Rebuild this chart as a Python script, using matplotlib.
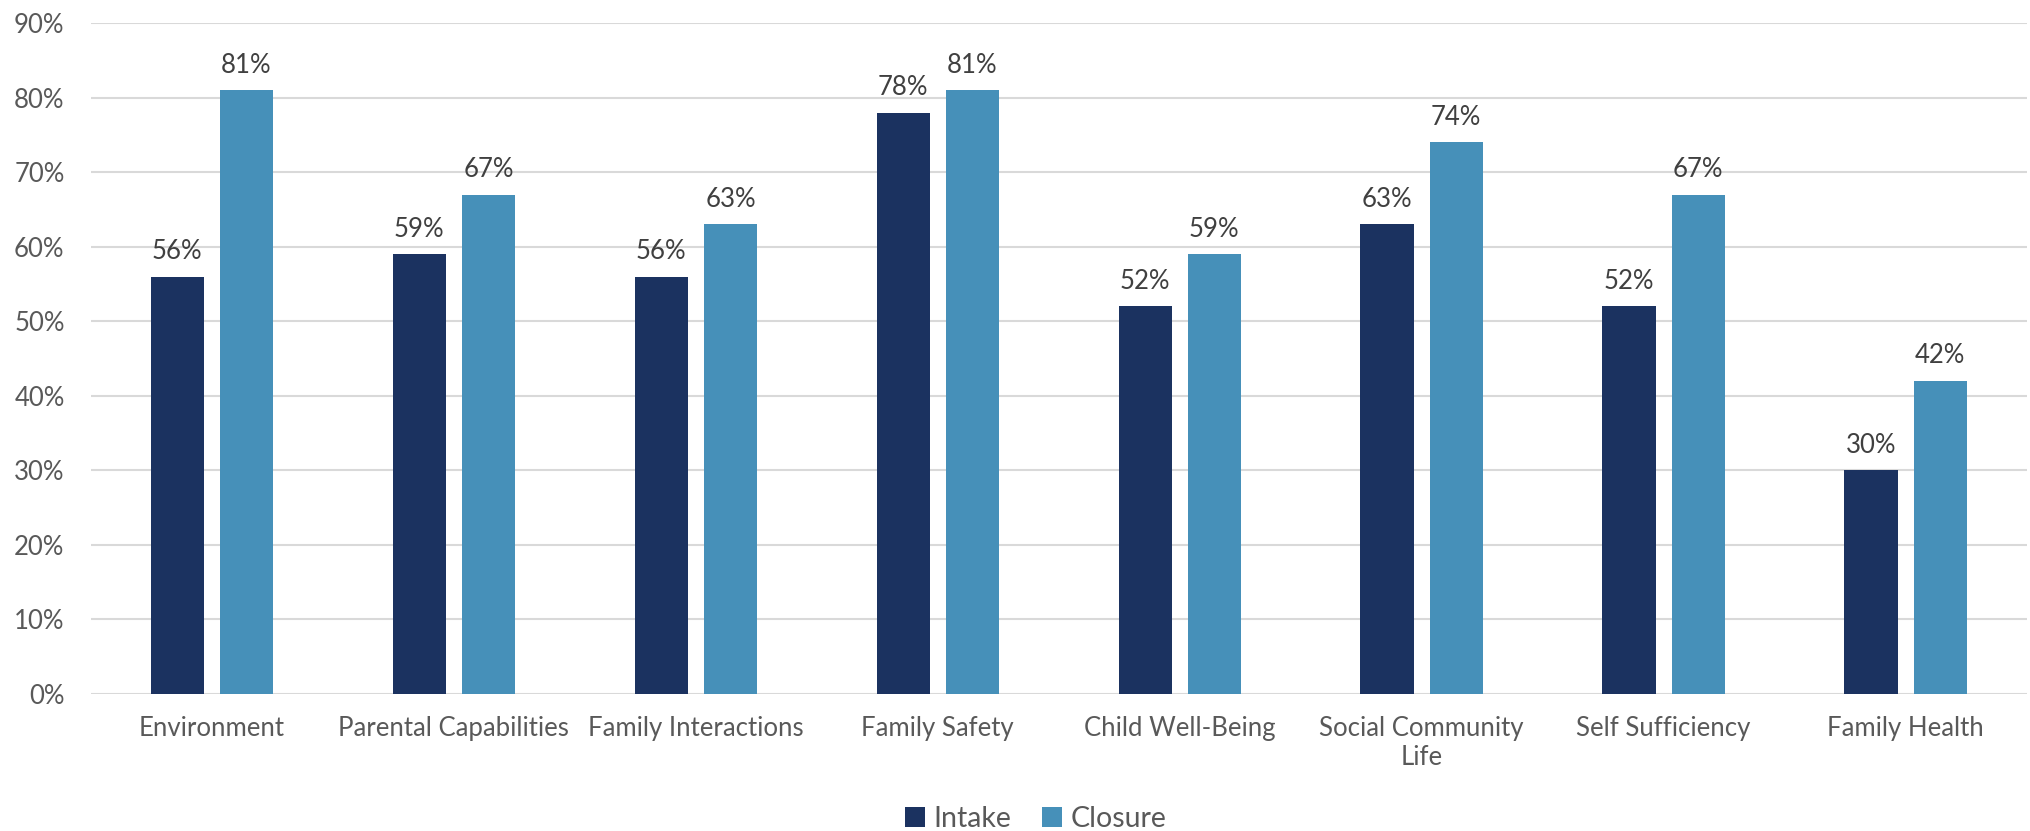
import matplotlib
matplotlib.use("Agg")
import matplotlib.pyplot as plt
import numpy as np

categories = ["Environment", "Parental Capabilities", "Family Interactions", "Family Safety",
              "Child Well-Being", "Social Community\nLife", "Self Sufficiency", "Family Health"]
intake = [56, 59, 56, 78, 52, 63, 52, 30]
closure = [81, 67, 63, 81, 59, 74, 67, 42]
series_names = ["Intake", "Closure"]
yticks = [0, 10, 20, 30, 40, 50, 60, 70, 80, 90]

plt.rcParams['font.family'] = ['Lato', 'DejaVu Sans']
text_color = "#595959"
c_intake = "#1B3260"
c_closure = "#4690B9"

fig = plt.figure(figsize=(20.31, 8.31), dpi=100)
ax = fig.add_axes([0.0448, 0.165, 0.953, 0.807])

x = np.arange(len(categories))
w = 0.22
off = 0.143
b1 = ax.bar(x - off, intake, w, color=c_intake, label=series_names[0], zorder=3)
b2 = ax.bar(x + off, closure, w, color=c_closure, label=series_names[1], zorder=3)

for bars in (b1, b2):
    for r in bars:
        ax.annotate(f"{int(r.get_height())}%", (r.get_x() + r.get_width() / 2, r.get_height()),
                    xytext=(0, 9), textcoords="offset points", ha="center", va="bottom",
                    fontsize=18.5, color="#404040")

ax.set_xlim(-0.5, len(categories) - 0.5)
ax.set_ylim(0, 90)
ax.set_yticks(yticks)
ax.set_yticklabels([f"{t}%" for t in yticks])
ax.set_xticks(x)
ax.set_xticklabels(categories)
ax.tick_params(axis='both', length=0, labelsize=18.5, colors=text_color)
ax.tick_params(axis='x', pad=16)
ax.tick_params(axis='y', pad=19)
for lbl in ax.get_yticklabels():
    lbl.set_horizontalalignment('right')
ax.grid(axis='y', color="#D9D9D9", linewidth=1.5, zorder=0)
for s in ax.spines.values():
    s.set_visible(False)

fig.legend(handles=[b1, b2], labels=series_names, loc='center', bbox_to_anchor=(0.51, 0.015),
           ncol=2, frameon=False, fontsize=20.5, handlelength=0.7, handleheight=0.7,
           handletextpad=0.3, columnspacing=1.1, labelcolor=text_color)

fig.savefig("out.png", dpi=100)
